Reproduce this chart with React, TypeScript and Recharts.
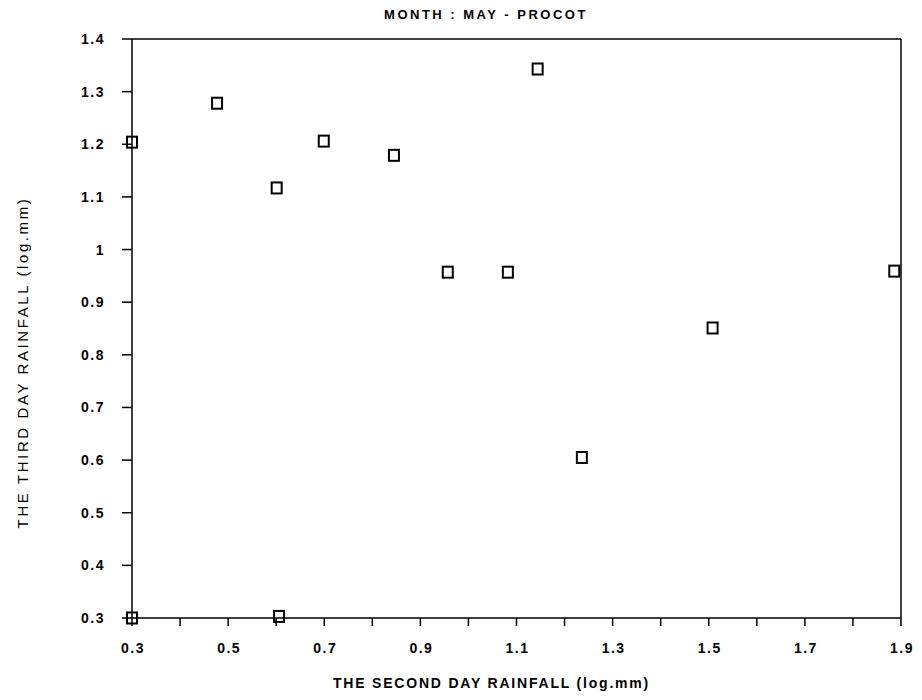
import {
  ScatterChart,
  Scatter,
  XAxis,
  YAxis,
  ReferenceLine,
  Label,
} from "recharts";

// second day rainfall (x) vs third day rainfall (y), both log.mm
const secondDay = [0.3, 0.477, 0.601, 0.699, 0.845, 0.957, 1.082, 1.144, 1.236, 1.508, 1.886, 0.3, 0.606];
const thirdDay = [1.204, 1.278, 1.117, 1.206, 1.179, 0.957, 0.957, 1.343, 0.605, 0.851, 0.959, 0.3, 0.303];

const xTicks = [0.3, 0.4, 0.5, 0.6, 0.7, 0.8, 0.9, 1.0, 1.1, 1.2, 1.3, 1.4, 1.5, 1.6, 1.7, 1.8, 1.9];
const xTickLabels = ["0.3", "0.5", "0.7", "0.9", "1.1", "1.3", "1.5", "1.7", "1.9"];
const yTicks = [0.3, 0.4, 0.5, 0.6, 0.7, 0.8, 0.9, 1.0, 1.1, 1.2, 1.3, 1.4];

const title = "MONTH : MAY - PROCOT";
const xTitle = "THE SECOND DAY RAINFALL (log.mm)";
const yTitle = "THE THIRD DAY RAINFALL (log.mm)";

const font = "'Liberation Sans', Arial, sans-serif";

const points = secondDay.map((x, i) => ({ x, y: thirdDay[i] }));

const XTick = (props: any) => {
  const { x, y, payload } = props;
  const label = payload.value.toFixed(1);
  if (!xTickLabels.includes(label)) return null;
  return (
    <text
      x={x + 1}
      y={y}
      dy="0.71em"
      textAnchor="middle"
      fontSize={14}
      fontWeight="bold"
      letterSpacing={1.5}
      fontFamily={font}
      fill="#000"
    >
      {label}
    </text>
  );
};

const SquareMarker = (props: any) => {
  const { cx, cy } = props;
  return (
    <rect
      x={cx - 5}
      y={cy - 5.5}
      width={10}
      height={11}
      fill="none"
      stroke="#000"
      strokeWidth={2}
    />
  );
};

const YTitle = (props: any) => {
  const { viewBox } = props;
  const cx = viewBox.x + 22;
  const cy = viewBox.y + viewBox.height / 2 + 34;
  return (
    <text
      x={cx}
      y={cy}
      transform={`rotate(-90, ${cx}, ${cy})`}
      textAnchor="middle"
      dominantBaseline="central"
      fontSize={15}
      letterSpacing={2.6}
      fontFamily={font}
      fill="#000"
    >
      {yTitle}
    </text>
  );
};

export default function App() {
  return (
    <div style={{ position: "absolute", left: 0, top: 0, width: 922, height: 700, background: "#fff" }}>
      <div
        style={{
          position: "absolute",
          left: 0,
          top: 7,
          width: 972,
          textAlign: "center",
          fontFamily: font,
          fontWeight: "bold",
          fontSize: 13,
          letterSpacing: 2.5,
          color: "#000",
        }}
      >
        {title}
      </div>
      <ScatterChart
        width={922}
        height={700}
        margin={{ top: 39, right: 21, bottom: 0, left: 0 }}
      >
        <XAxis
          type="number"
          dataKey="x"
          domain={[0.3, 1.9]}
          ticks={xTicks}
          interval={0}
          height={82}
          tickSize={8}
          tickMargin={17}
          tick={<XTick />}
          axisLine={{ stroke: "#000", strokeWidth: 1.5 }}
          tickLine={{ stroke: "#000", strokeWidth: 1.5 }}
        >
          <Label
            value={xTitle}
            position="insideBottom"
            offset={12}
            dx={-25}
            style={{ fontSize: 14, fontWeight: "bold", letterSpacing: 1.8, fontFamily: font, fill: "#000" }}
          />
        </XAxis>
        <YAxis
          type="number"
          dataKey="y"
          domain={[0.3, 1.4]}
          ticks={yTicks}
          interval={0}
          width={132}
          tickSize={10}
          tickMargin={17}
          tickFormatter={(v: number) => (v === 1 ? "1" : v.toFixed(1))}
          tick={{ fontSize: 14, fontWeight: "bold", letterSpacing: 1.5, fontFamily: font, fill: "#000" }}
          axisLine={{ stroke: "#000", strokeWidth: 1.5 }}
          tickLine={{ stroke: "#000", strokeWidth: 1.5 }}
        >
          <Label content={<YTitle />} />
        </YAxis>
        <ReferenceLine y={1.4} stroke="#000" strokeWidth={1.5} />
        <ReferenceLine x={1.9} stroke="#000" strokeWidth={1.5} />
        <Scatter data={points} shape={<SquareMarker />} isAnimationActive={false} />
      </ScatterChart>
    </div>
  );
}
